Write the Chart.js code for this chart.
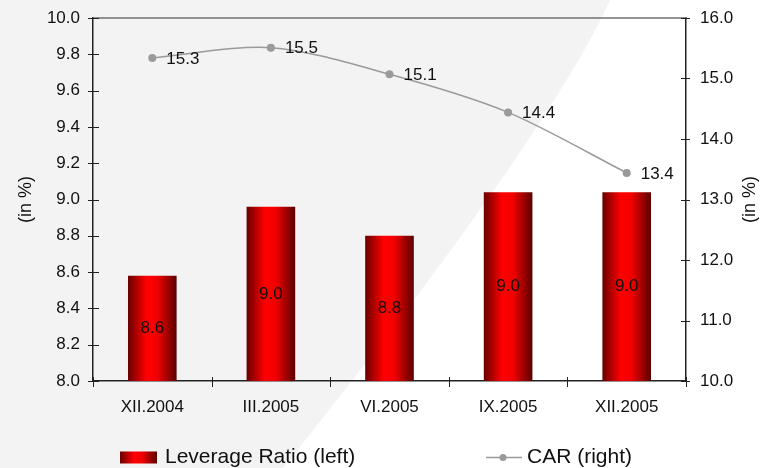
<!DOCTYPE html>
<html>
<head>
<meta charset="utf-8">
<script src="https://cdn.jsdelivr.net/npm/chart.js@4/dist/chart.umd.min.js"></script>
<style>
  html, body { margin: 0; padding: 0; background: #fff; }
  #wrap { width: 761px; height: 468px; }
</style>
</head>
<body>
<div id="wrap"><canvas id="leverage_chart"></canvas></div>
<script>
const categories = ['XII.2004', 'III.2005', 'VI.2005', 'IX.2005', 'XII.2005'];
const leverageRatio = [8.58, 8.96, 8.80, 9.04, 9.04];
const carRatio = [15.34, 15.51, 15.07, 14.44, 13.44];
const legendLabels = ['Leverage Ratio (left)', 'CAR (right)'];
const axisTitle = '(in %)';

const FONT = '"Liberation Sans", Arial, sans-serif';
const INK = '#111111';
const AXIS = '#222222';
const GREY = '#9a9a9a';
const BAR_SHARE = 0.41;

function redGradient(c, x0, w) {
    const g = c.createLinearGradient(x0, 0, x0 + w, 0);
    g.addColorStop(0, '#680000');
    g.addColorStop(0.38, '#ff0000');
    g.addColorStop(0.6, '#f20000');
    g.addColorStop(1, '#5a0000');
    return g;
}

// cylinder-like shading, one gradient per bar
function barFill(context) {
    const chart = context.chart;
    const area = chart.chartArea;
    if (!area || context.dataIndex === undefined) return '#e00000';
    const w = (area.right - area.left) / categories.length * BAR_SHARE;
    const cx = chart.scales.x.getPixelForValue(context.dataIndex);
    return redGradient(chart.ctx, cx - w / 2, w);
}

// keep the plot box exactly where the frame needs it
function noEdgePadding(scale) {
    scale.paddingTop = 0;
    scale.paddingBottom = 0;
}

// grey page with a white swoosh on the right
const backdrop = {
    id: 'backdrop',
    beforeDraw(chart) {
        const c = chart.ctx;
        const w = chart.width, h = chart.height;
        c.save();
        c.fillStyle = '#ffffff';
        c.fillRect(0, 0, w, h);
        c.fillStyle = '#f3f3f3';
        c.beginPath();
        c.moveTo(0, 0);
        c.lineTo(610, 0);
        c.quadraticCurveTo(549, 135, 283, h);
        c.lineTo(0, h);
        c.closePath();
        c.fill();
        c.restore();
    }
};

// crossing tick marks, top frame line, axis titles, value labels, legend
const decorations = {
    id: 'decorations',
    afterDraw(chart) {
        const c = chart.ctx;
        const area = chart.chartArea;
        const yl = chart.scales.y, yr = chart.scales.y1, xs = chart.scales.x;
        c.save();

        c.strokeStyle = '#707070';
        c.lineWidth = 1.5;
        c.beginPath();
        c.moveTo(area.left, area.top);
        c.lineTo(area.right, area.top);
        c.stroke();

        c.strokeStyle = AXIS;
        c.lineWidth = 1;
        c.beginPath();
        yl.ticks.forEach(t => {
            const py = Math.round(yl.getPixelForValue(t.value)) + 0.5;
            c.moveTo(area.left - 5, py);
            c.lineTo(area.left + 6, py);
        });
        yr.ticks.forEach(t => {
            const py = Math.round(yr.getPixelForValue(t.value)) + 0.5;
            c.moveTo(area.right - 5, py);
            c.lineTo(area.right + 4, py);
        });
        const step = (area.right - area.left) / categories.length;
        for (let i = 0; i <= categories.length; i++) {
            const px = Math.round(area.left + i * step) + 0.5;
            c.moveTo(px, area.bottom - 4);
            c.lineTo(px, area.bottom + 6);
        }
        c.stroke();

        c.fillStyle = INK;
        c.font = '18px ' + FONT;
        c.textAlign = 'center';
        c.textBaseline = 'middle';
        const midY = (area.top + area.bottom) / 2;
        [26, 750].forEach(tx => {
            c.save();
            c.translate(tx, midY);
            c.rotate(-Math.PI / 2);
            c.fillText(axisTitle, 0, 0);
            c.restore();
        });

        c.font = '17px ' + FONT;
        c.textAlign = 'center';
        leverageRatio.forEach((v, i) => {
            const mid = (yl.getPixelForValue(v) + yl.getPixelForValue(yl.min)) / 2;
            c.fillText(v.toFixed(1), xs.getPixelForValue(i), mid);
        });
        c.textAlign = 'left';
        carRatio.forEach((v, i) => {
            c.fillText(v.toFixed(1), xs.getPixelForValue(i) + 14, yr.getPixelForValue(v) + 1);
        });

        const ly = 457.5;
        c.fillStyle = redGradient(c, 120, 37);
        c.fillRect(120, ly - 6, 37, 12);
        c.strokeStyle = GREY;
        c.lineWidth = 1.5;
        c.beginPath();
        c.moveTo(486, ly);
        c.lineTo(522, ly);
        c.stroke();
        c.fillStyle = GREY;
        c.beginPath();
        c.arc(503, ly, 3.5, 0, Math.PI * 2);
        c.fill();
        c.fillStyle = INK;
        c.font = '21px ' + FONT;
        c.textAlign = 'left';
        c.fillText(legendLabels[0], 165, ly);
        c.fillText(legendLabels[1], 527, ly);

        c.restore();
    }
};

const ctx = document.getElementById('leverage_chart').getContext('2d');
const leverage_chart = new Chart(ctx, {
    type: 'bar',
    data: {
        labels: categories,
        datasets: [{
            label: legendLabels[0],
            data: leverageRatio,
            yAxisID: 'y',
            backgroundColor: barFill,
            borderWidth: 0,
            categoryPercentage: 1,
            barPercentage: BAR_SHARE,
            order: 2
        }, {
            type: 'line',
            label: legendLabels[1],
            data: carRatio,
            yAxisID: 'y1',
            borderColor: GREY,
            borderWidth: 1.5,
            tension: 0.3,
            pointRadius: 4,
            pointBackgroundColor: GREY,
            pointBorderWidth: 0,
            order: 1
        }]
    },
    options: {
        responsive: true,
        maintainAspectRatio: false,
        animation: false,
        layout: { padding: { top: 18, left: 0, right: 0, bottom: 0 } },
        plugins: {
            legend: { display: false },
            tooltip: { enabled: false }
        },
        scales: {
            x: {
                grid: { display: false, drawTicks: false },
                border: { display: true, color: AXIS, width: 1.5 },
                ticks: { color: INK, font: { family: FONT, size: 17 }, padding: 16 },
                afterFit(scale) { scale.height = 87; }
            },
            y: {
                position: 'left',
                min: 8,
                max: 10,
                grid: { display: false, drawTicks: false },
                border: { display: true, color: AXIS, width: 1.5 },
                ticks: {
                    stepSize: 0.2,
                    color: INK,
                    padding: 13,
                    font: { family: FONT, size: 17 },
                    callback: v => v.toFixed(1)
                },
                afterFit(scale) { scale.width = 93; noEdgePadding(scale); }
            },
            y1: {
                position: 'right',
                min: 10,
                max: 16,
                grid: { display: false, drawTicks: false },
                border: { display: true, color: AXIS, width: 1.5 },
                ticks: {
                    stepSize: 1,
                    color: INK,
                    padding: 14,
                    font: { family: FONT, size: 17 },
                    callback: v => v.toFixed(1)
                },
                afterFit(scale) { scale.width = 75; noEdgePadding(scale); }
            }
        }
    },
    plugins: [backdrop, decorations]
});
</script>
</body>
</html>
